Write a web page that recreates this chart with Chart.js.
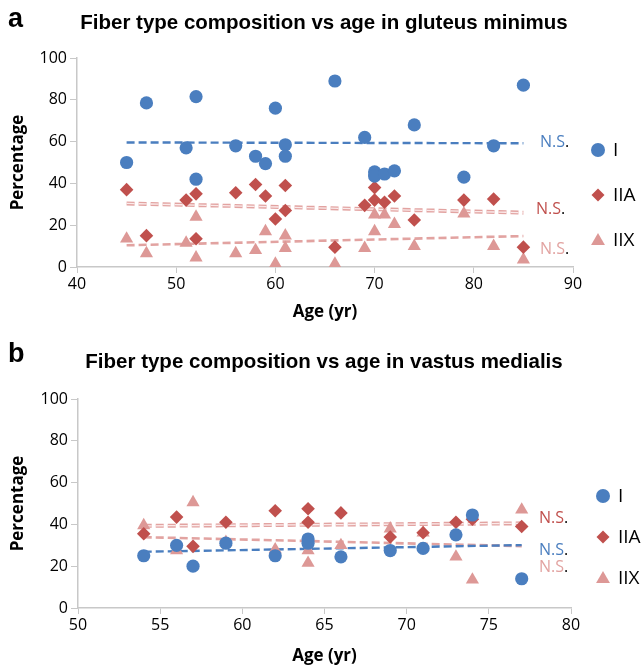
<!DOCTYPE html>
<html>
<head>
<meta charset="utf-8">
<script src="https://cdn.jsdelivr.net/npm/chart.js@4.4.1/dist/chart.umd.min.js"></script>
<style>
  body { margin: 0; background: #fff; }
  canvas { display: block; }
</style>
</head>
<body>
<canvas id="gluteusChart" width="644" height="330"></canvas>
<canvas id="vastusChart" width="644" height="337"></canvas>
<script>
// panel a - gluteus minimus
const gmAges = [45, 47, 51, 52, 52, 56, 58, 59, 60, 61, 61, 66, 69, 70, 70, 71, 72, 74, 79, 82, 85];
const gmTypeI = [50, 78.5, 57, 81.5, 42, 58, 53, 49.5, 76, 58.5, 53, 89, 62, 45.5, 43.5, 44.5, 46, 68, 43, 58, 87];
const gmTypeIIA = [37, 15, 32, 13.5, 35, 35.5, 39.5, 34, 23, 27, 39, 9.5, 29.5, 38, 32, 31, 34, 22.5, 32, 32.5, 9.5];
const gmTypeIIX = [13.5, 6.5, 11.5, 4.5, 24, 6.5, 8, 17, 1.5, 15, 9, 1.5, 9, 17, 25, 25, 20.5, 10, 25.5, 10, 3.5];
const gmTrendAges = [45, 85];
const gmTrendI = [59.6, 59.2];
const gmTrendIIA = [30.4, 26];
const gmTrendIIX = [10.4, 14.8];

// panel b - vastus medialis
const vmAges = [54, 56, 57, 59, 62, 64, 64, 66, 69, 71, 73, 74, 77];
const vmTypeI = [25, 30, 20, 31, 25, 33, 31, 24.5, 27.5, 28.5, 35, 44.5, 14];
const vmTypeIIA = [35.5, 43.5, 29.5, 41, 46.5, 41, 47.5, 45.5, 34, 36, 41, 42.5, 39];
const vmTypeIIX = [39.5, 27.5, 50.5, 31.5, 28, 27.5, 21.5, 30, 38, 36, 24.5, 13.5, 47];
const vmTrendAges = [54, 77];
const vmTrendI = [26.9, 30.1];
const vmTrendIIA = [39.3, 40.5];
const vmTrendIIX = [33.9, 29.6];

const seriesNames = ['I', 'IIA', 'IIX'];
const nsText = 'N.S';

const blue = '#4a7ebf';
const red = '#c0504d';
const pink = '#dd9896';
const pinkLine = '#e2a3a1';
const axisGrey = '#c8c8c8';

function pts(xs, ys) {
    return xs.map((x, i) => ({ x: x, y: ys[i] }));
}

function buildDatasets(ages, vI, vIIA, vIIX, tAges, tI, tIIA, tIIX) {
    const dash = [8, 4];
    return [
        { type: 'scatter', label: seriesNames[0], data: pts(ages, vI), pointStyle: 'circle', pointRadius: 6.6, backgroundColor: blue, borderWidth: 0, order: 1 },
        { type: 'scatter', label: seriesNames[1], data: pts(ages, vIIA), pointStyle: 'rectRot', pointRadius: 6.8, backgroundColor: red, borderWidth: 0, order: 2 },
        { type: 'scatter', label: seriesNames[2], data: pts(ages, vIIX), pointStyle: 'triangle', pointRadius: 7.6, backgroundColor: pink, borderWidth: 0, order: 3 },
        { type: 'line', data: pts(tAges, tI), borderColor: blue, borderWidth: 2.4, borderDash: dash, pointRadius: 0, order: 4 },
        { type: 'line', data: pts(tAges, tIIA), borderColor: '#fbeaea', borderWidth: 1.3, borderDash: dash, pointRadius: 0, order: 5 },
        { type: 'line', data: pts(tAges, tIIA), borderColor: pinkLine, borderWidth: 4, borderDash: dash, pointRadius: 0, order: 6 },
        { type: 'line', data: pts(tAges, tIIX), borderColor: pinkLine, borderWidth: 2.6, borderDash: dash, pointRadius: 0, order: 7 }
    ];
}

function drawMarker(ctx, style, x, y, r, color) {
    ctx.fillStyle = color;
    ctx.beginPath();
    if (style === 'circle') {
        ctx.arc(x, y, r, 0, Math.PI * 2);
    } else if (style === 'diamond') {
        ctx.moveTo(x - r, y); ctx.lineTo(x, y - r); ctx.lineTo(x + r, y); ctx.lineTo(x, y + r);
    } else {
        ctx.moveTo(x, y - r); ctx.lineTo(x + r * 0.866, y + r / 2); ctx.lineTo(x - r * 0.866, y + r / 2);
    }
    ctx.closePath();
    ctx.fill();
}

function decorPlugin(cfg) {
    return {
        id: 'decor',
        afterDraw(chart) {
            const ctx = chart.ctx;
            ctx.save();
            ctx.textBaseline = 'middle';
            // panel letter + title
            ctx.fillStyle = '#000';
            ctx.font = 'bold 27px "Liberation Sans", Arial, sans-serif';
            ctx.textAlign = 'left';
            ctx.fillText(cfg.letter, 8, cfg.letterY);
            ctx.font = 'bold 20.5px "Liberation Sans", Arial, sans-serif';
            ctx.textAlign = 'center';
            ctx.fillText(cfg.title, cfg.titleX, cfg.titleY);

            // N.S. labels beside the trend lines
            ctx.font = '16px "Open Sans", sans-serif';
            ctx.textAlign = 'left';
            cfg.ns.forEach(n => {
                ctx.fillStyle = n.color;
                ctx.fillText(nsText, n.x, n.y);
                const w = ctx.measureText(nsText).width;
                ctx.fillStyle = '#000';
                ctx.fillText('.', n.x + w, n.y);
            });

            // legend
            const styles = ['circle', 'diamond', 'triangle'];
            const colors = [blue, red, pink];
            const sizes = [7, 6.5, 8];
            ctx.font = '19px "Open Sans", sans-serif';
            seriesNames.forEach((name, i) => {
                const y = cfg.legendY[i];
                drawMarker(ctx, styles[i], cfg.legendX, i === 2 ? y + 1 : y, sizes[i], colors[i]);
                ctx.fillStyle = '#000';
                ctx.fillText(name, cfg.legendX + 15, y + 1);
            });
            ctx.restore();
        }
    };
}

function makeChart(id, datasets, xr, box, decor) {
    const ctx = document.getElementById(id).getContext('2d');
    return new Chart(ctx, {
        data: { datasets: datasets },
        options: {
            responsive: false,
            animation: false,
            layout: { padding: { top: box.top, right: box.right, left: 0, bottom: 0 } },
            plugins: { legend: { display: false }, tooltip: { enabled: false } },
            scales: {
                x: {
                    type: 'linear', min: xr[0], max: xr[1],
                    ticks: { stepSize: xr[2], color: '#000', font: { family: 'Open Sans', size: 16 }, padding: 2 },
                    grid: { drawOnChartArea: false, color: axisGrey, tickLength: 6 },
                    border: { color: axisGrey, width: 1.5 },
                    title: { display: true, text: 'Age (yr)', color: '#000', font: { family: 'Open Sans', size: 17, weight: 'bold' }, padding: { top: 0, bottom: box.xTitlePad } },
                    afterFit: s => { s.height = box.xHeight; }
                },
                y: {
                    min: 0, max: 100,
                    ticks: { stepSize: 20, color: '#000', font: { family: 'Open Sans', size: 16 }, padding: 3 },
                    grid: { drawOnChartArea: false, color: axisGrey, tickLength: 7 },
                    border: { color: axisGrey, width: 1.5 },
                    title: { display: true, text: 'Percentage', color: '#000', font: { family: 'Open Sans', size: 17, weight: 'bold' }, padding: { top: 8, bottom: 0 } },
                    afterFit: s => { s.width = box.yWidth; }
                }
            }
        },
        plugins: [decorPlugin(decor)]
    });
}

makeChart('gluteusChart',
    buildDatasets(gmAges, gmTypeI, gmTypeIIA, gmTypeIIX, gmTrendAges, gmTrendI, gmTrendIIA, gmTrendIIX),
    [40, 90, 10],
    { top: 58, right: 71, xHeight: 63, yWidth: 77, xTitlePad: 8 },
    {
        letter: 'a', letterY: 20, title: 'Fiber type composition vs age in gluteus minimus', titleX: 324, titleY: 23,
        legendX: 598, legendY: [150, 195, 240],
        ns: [{ x: 540, y: 142, color: blue }, { x: 536, y: 209, color: red }, { x: 540, y: 249, color: pinkLine }]
    });

makeChart('vastusChart',
    buildDatasets(vmAges, vmTypeI, vmTypeIIA, vmTypeIIX, vmTrendAges, vmTrendI, vmTrendIIA, vmTrendIIX),
    [50, 80, 5],
    { top: 69, right: 73, xHeight: 59, yWidth: 78, xTitlePad: 1 },
    {
        letter: 'b', letterY: 25, title: 'Fiber type composition vs age in vastus medialis', titleX: 324, titleY: 32,
        legendX: 603, legendY: [166, 207, 248],
        ns: [{ x: 539, y: 188, color: red }, { x: 539, y: 220, color: blue }, { x: 539, y: 237, color: pinkLine }]
    });
</script>
</body>
</html>
